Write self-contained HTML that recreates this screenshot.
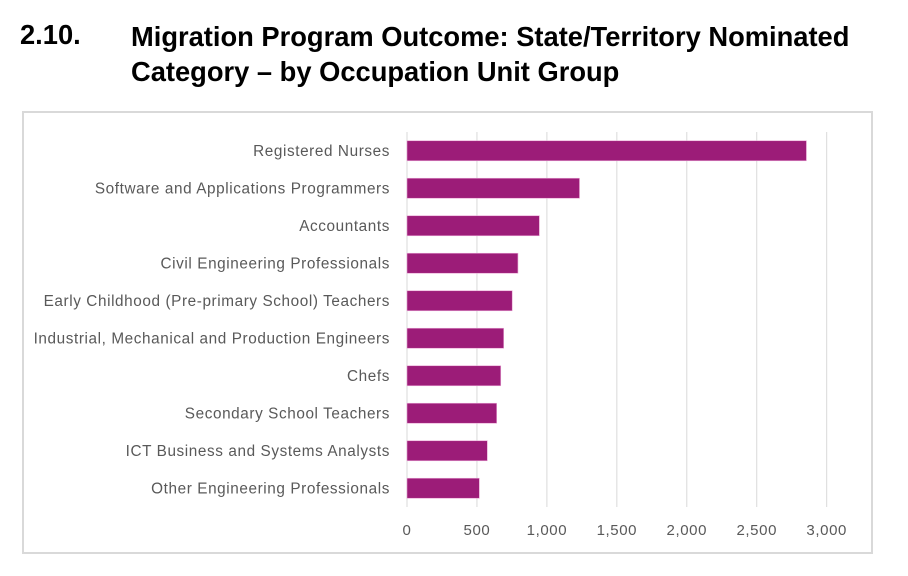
<!DOCTYPE html>
<html><head><meta charset="utf-8"><style>
body{margin:0;width:908px;height:576px;background:#fff;overflow:hidden;font-family:"Liberation Sans",Arial,sans-serif;}
.t{position:absolute;font-weight:bold;font-size:27.3px;color:#000;}
</style></head><body>
<div class="t" style="left:20px;top:19px;">2.10.</div>
<div class="t" style="left:131px;top:19px;line-height:35px;">Migration Program Outcome: State/Territory Nominated<br>Category – by Occupation Unit Group</div>
<svg id="c" width="908" height="576" style="position:absolute;left:0;top:0">
<rect x="23" y="112" width="849" height="441" fill="none" stroke="#d9d9d9" stroke-width="2"/>
</svg>
<script>
const categories=["Registered Nurses","Software and Applications Programmers","Accountants","Civil Engineering Professionals","Early Childhood (Pre-primary School) Teachers","Industrial, Mechanical and Production Engineers","Chefs","Secondary School Teachers","ICT Business and Systems Analysts","Other Engineering Professionals"];
const values=[2855,1233,946,793,752,691,670,641,574,517];
const ticks=[0,500,1000,1500,2000,2500,3000];
const tickLabels=["0","500","1,000","1,500","2,000","2,500","3,000"];
const svg=document.getElementById('c');const NS='http://www.w3.org/2000/svg';
const x0=407,x1=826.7,vmax=3000,yTop=132,yBot=507;
const xs=v=>x0+(x1-x0)*v/vmax;
const band=(yBot-yTop)/categories.length;
const ys=i=>yTop+band*i+band/2;
function mk(t,a){const e=document.createElementNS(NS,t);for(const k in a)e.setAttribute(k,a[k]);svg.appendChild(e);return e;}
ticks.forEach((t,i)=>{
 const g=mk('line',{x1:xs(t),x2:xs(t),y1:yTop,y2:yBot,stroke:'#d9d9d9','stroke-width':1});
 
 
 const l=mk('text',{x:xs(t),y:535,'text-anchor':'middle','font-size':'15','fill':'#595959','font-family':'Liberation Sans, sans-serif','letter-spacing':'0.6'});
 l.textContent=tickLabels[i];
 
 
});
categories.forEach((c,i)=>{
 const b=mk('rect',{x:x0,y:ys(i)-10,width:xs(values[i])-x0,height:20,fill:'#9c1c78',stroke:'#e7a3d2','stroke-width':0.6});
 
 
 const l=mk('text',{x:390,y:ys(i)+5,'text-anchor':'end','font-size':'15.3','fill':'#595959','font-family':'Liberation Sans, sans-serif','letter-spacing':'0.6'});
 l.textContent=c;
 
 
});
</script>
</body></html>
